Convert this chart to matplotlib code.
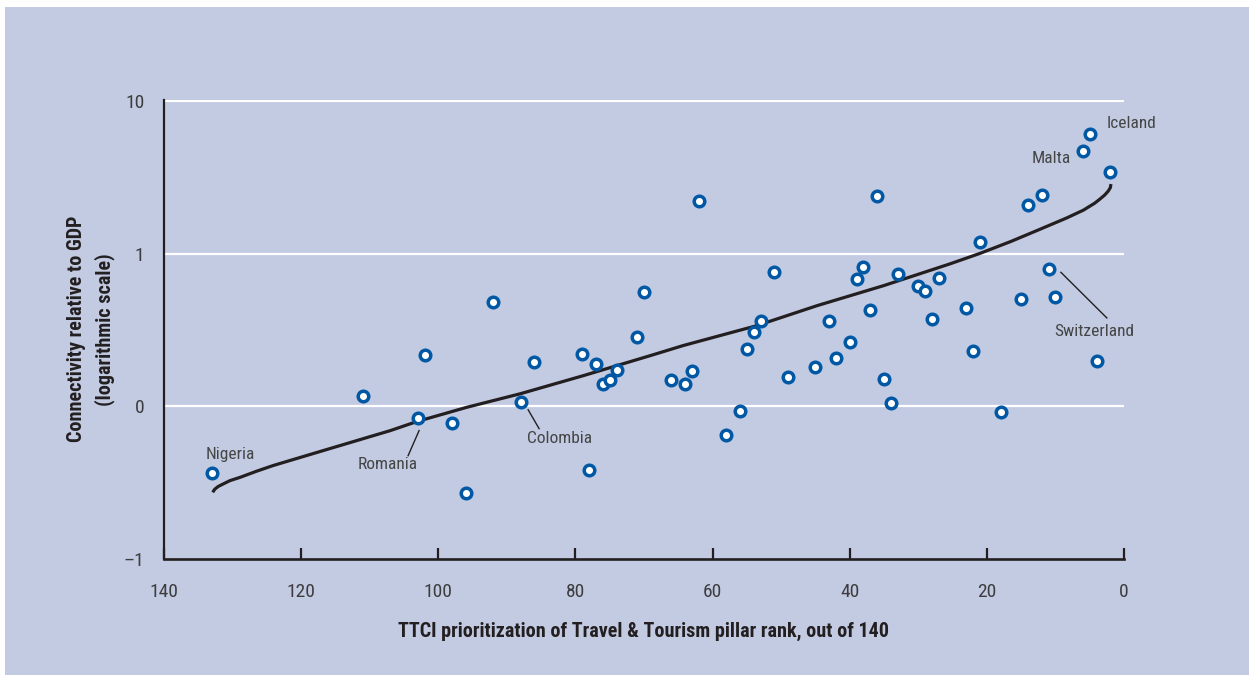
import numpy as np
import matplotlib
matplotlib.use("Agg")
import matplotlib.pyplot as plt
from matplotlib.patches import Rectangle

# y values are in log10 units: 1 -> "10", 0 -> "1" (axis labels follow the original figure)
rank = [133, 111, 103, 98, 102, 96, 92, 88, 86, 79, 78, 77, 76, 75, 74, 71, 70,
        66, 64, 63, 62, 58, 56, 55, 54, 53, 51, 49, 45, 43, 42, 40, 39, 38, 37,
        36, 35, 34, 33, 30, 29, 28, 27, 23, 22, 21, 18, 15, 14, 12, 11, 10, 6,
        5, 4, 2]
connectivity = [-1.436, -0.935, -1.079, -1.109, -0.661, -1.570, -0.314, -0.969,
                -0.712, -0.657, -1.417, -0.720, -0.853, -0.825, -0.764, -0.548,
                -0.253, -0.825, -0.853, -0.771, 0.347, -1.185, -1.033, -0.627,
                -0.515, -0.439, -0.122, -0.805, -0.740, -0.441, -0.683, -0.576,
                -0.167, -0.086, -0.369, 0.380, -0.823, -0.980, -0.136, -0.210,
                -0.246, -0.428, -0.157, -0.356, -0.640, 0.077, -1.037, -0.298,
                0.318, 0.382, -0.103, -0.282, 0.675, 0.784, -0.705, 0.537]

# fitted curve
fit_rank = [132.9, 132.6, 132.1, 131.35, 130.4, 128.9, 126.5, 124.1, 116.8, 107.0,
            103.15, 95.9, 88.0, 78.85, 69.1, 64.3, 53.6, 44.8, 35.1, 25.4, 21.0,
            16.5, 12.25, 8.36, 5.93, 4.3, 3.5, 2.8, 2.3, 2.0, 1.9]
fit_conn = [-1.563, -1.543, -1.525, -1.508, -1.487, -1.465, -1.425, -1.388, -1.290,
            -1.159, -1.100, -1.007, -0.917, -0.799, -0.668, -0.602, -0.472, -0.341,
            -0.210, -0.067, 0.002, 0.080, 0.160, 0.234, 0.285, 0.330, 0.358, 0.385,
            0.410, 0.432, 0.456]

y_ticks = [1, 0, -1, -2]
y_tick_labels = ["10", "1", "0", "\u20131"]
x_ticks = [140, 120, 100, 80, 60, 40, 20, 0]

# label, text position, optional leader line (from, to)
labels = [
    ("Nigeria", (134.0, -1.317), None),
    ("Romania", (111.8, -1.382), ((102.8, -1.159), (104.4, -1.323))),
    ("Colombia", (87.0, -1.213), ((86.9, -1.022), (85.3, -1.146))),
    ("Switzerland", (10.1, -0.511), ((9.2, -0.122), (2.5, -0.421))),
    ("Malta", (13.5, 0.624), None),
    ("Iceland", (2.6, 0.855), None),
]

BG = "#C3CBE3"
DARK = "#231F20"
BLUE = "#0057A4"
FONTS = ["Roboto Condensed", "Archivo Narrow", "DejaVu Sans"]


def main():
    plt.rcParams["font.family"] = FONTS

    fig = plt.figure(figsize=(12.49, 6.75), dpi=100, facecolor="white")
    fig.patches.append(Rectangle((5 / 1249, 0), 1, 668 / 675, transform=fig.transFigure,
                                 facecolor=BG, edgecolor="none", zorder=-10))

    ax = fig.add_axes([164 / 1249, 1 - 559 / 675, 960 / 1249, 459.5 / 675])
    ax.set_facecolor("none")
    ax.set_xlim(140, 0)
    ax.set_ylim(-2, 1.01)

    for y in [1, 0, -1]:
        ax.axhline(y, color="white", lw=1.6, zorder=1)

    ax.plot(fit_rank, fit_conn, color=DARK, lw=2.3, solid_capstyle="butt",
            solid_joinstyle="round", zorder=2)
    ax.plot(rank, connectivity, "o", ms=7.6, mfc="white", mec=BLUE, mew=2.5,
            zorder=3, clip_on=False)

    for text, pos, leader in labels:
        ax.text(pos[0], pos[1], text, ha="left", va="center", fontsize=12.5,
                color="#454545", zorder=4)
        if leader:
            (x0, y0), (x1, y1) = leader
            ax.plot([x0, x1], [y0, y1], color=DARK, lw=1.0, zorder=2)

    for side in ["top", "right"]:
        ax.spines[side].set_visible(False)
    ax.spines["left"].set_linewidth(1.6)
    ax.spines["left"].set_color(DARK)
    ax.spines["bottom"].set_linewidth(1.9)
    ax.spines["bottom"].set_color(DARK)

    ax.set_xticks(x_ticks)
    ax.set_xticklabels([str(t) for t in x_ticks])
    ax.set_yticks(y_ticks)
    ax.set_yticklabels(y_tick_labels)
    ax.tick_params(axis="x", direction="in", length=8, width=1.6, color=DARK,
                   pad=17, labelsize=14, labelcolor="#3d3d3d")
    ax.tick_params(axis="y", length=0, pad=14, labelsize=14, labelcolor="#3d3d3d")

    ax.set_xlabel("TTCI prioritization of Travel & Tourism pillar rank, out of 140",
                  fontsize=14.5, fontweight="bold", color=DARK, labelpad=15)
    ax.set_ylabel("Connectivity relative to GDP\n(logarithmic scale)",
                  fontsize=14.5, fontweight="bold", color=DARK, labelpad=6,
                  linespacing=1.55)

    fig.savefig("out.png", dpi=100, facecolor="white")
    plt.close(fig)


if __name__ == "__main__":
    main()
